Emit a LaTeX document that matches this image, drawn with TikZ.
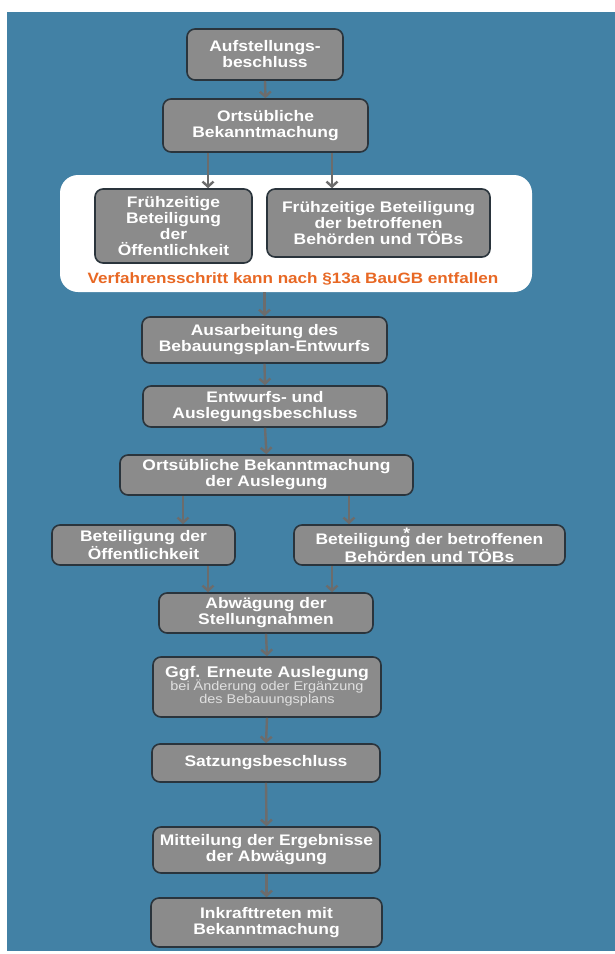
\documentclass[tikz,border=0pt]{standalone}
\usepackage{fontspec}
\setmainfont{Liberation Sans}[FakeStretch=1.14]
\usetikzlibrary{arrows.meta}
\definecolor{bgblue}{RGB}{66,129,165}
\definecolor{boxgray}{RGB}{139,139,139}
\definecolor{boxline}{RGB}{42,52,60}
\definecolor{arrowgray}{RGB}{108,108,108}
\definecolor{orangetxt}{RGB}{232,104,36}
\definecolor{lighttxt}{RGB}{224,224,224}
\begin{document}
\begin{tikzpicture}[x=1pt,y=-1pt,
  stepbox/.style={draw=boxline, line width=1.6pt, fill=boxgray, rounded corners=8pt,
    text=white, font=\fontsize{15.3}{16}\selectfont\bfseries, align=center, inner sep=0pt},
  conn/.style={draw=arrowgray, line width=2.4pt, -{Straight Barb[length=5pt,width=11pt]}},
  plain/.style={anchor=base, inner sep=0pt}]
\useasboundingbox (0,0) rectangle (615,954);
\fill[white] (0,0) rectangle (615,954);
\fill[bgblue] (7,12) rectangle (615,951);

% white frame for optional step
\node[fill=white, rounded corners=18pt, minimum width=472pt, minimum height=117pt, inner sep=0pt] (w) at (296,233.5) {};

% boxes
\node[stepbox, minimum width=156pt, minimum height=51pt] (b1) at (265,54.5) {Aufstellungs-\\beschluss};
\node[stepbox, minimum width=205pt, minimum height=53pt] (b2) at (265.5,125.5) {Ortsübliche\\Bekanntmachung};
\node[stepbox, minimum width=157pt, minimum height=74pt] (b3) at (173.5,226) {Frühzeitige\\Beteiligung\\der\\Öffentlichkeit};
\node[stepbox, minimum width=223pt, minimum height=68pt] (b4) at (378.5,223) {Frühzeitige Beteiligung\\der betroffenen\\Behörden und TÖBs};
\node[font=\fontsize{15}{18}\selectfont\bfseries, text=orangetxt, inner sep=0pt] (note) at (293,279) {Verfahrensschritt kann nach §13a BauGB entfallen};

\node[stepbox, minimum width=245pt, minimum height=46pt] (b5) at (264.5,340) {Ausarbeitung des\\Bebauungsplan-Entwurfs};
\node[stepbox, minimum width=244pt, minimum height=41pt] (b6) at (265,406.5) {Entwurfs- und\\Auslegungsbeschluss};
\node[stepbox, minimum width=293pt, minimum height=40pt] (b7) at (266.5,475) {Ortsübliche Bekanntmachung\\der Auslegung};
\node[stepbox, minimum width=183pt, minimum height=40pt] (b8) at (143.5,545) {Beteiligung der\\Öffentlichkeit};
\node[stepbox, minimum width=271pt, minimum height=40pt] (b9) at (429.5,545) {Beteiligung\llap{\raisebox{0.45em}{*}\kern0.5pt} der betroffenen\\Behörden und TÖBs};
\node[stepbox, minimum width=214pt, minimum height=40pt] (b10) at (266,613) {Abwägung der\\Stellungnahmen};
\node[stepbox, minimum width=228pt, minimum height=60pt] (b11) at (267,687) {};
\node[plain, font=\fontsize{15.5}{18}\selectfont\bfseries, text=white] (g1) at (267,677) {Ggf. Erneute Auslegung};
\node[plain, font=\fontsize{12.7}{14}\selectfont, text=lighttxt] (g2) at (267,690.5) {bei Änderung oder Ergänzung};
\node[plain, font=\fontsize{12.7}{14}\selectfont, text=lighttxt] (g3) at (267,703.3) {des Bebauungsplans};
\node[stepbox, minimum width=228pt, minimum height=38pt] (b12) at (266,763) {Satzungsbeschluss};
\node[stepbox, minimum width=227pt, minimum height=46pt] (b13) at (266.5,850) {Mitteilung der Ergebnisse\\der Abwägung};
\node[stepbox, minimum width=231pt, minimum height=49pt] (b14) at (266.5,922.5) {Inkrafttreten mit\\Bekanntmachung};

% helper x positions
\coordinate (xa) at (208,0);
\coordinate (xb) at (332,0);
\coordinate (xc) at (183,0);
\coordinate (xd) at (349,0);

% connectors
\draw[conn] (b1.south) -- (b2.north);
\draw[conn] (b2.south -| xa) -- (b3.north -| xa);
\draw[conn] (b2.south -| xb) -- (b4.north -| xb);
\draw[conn] (w.south -| b5.north) -- (b5.north);
\draw[conn] (b5.south) -- (b6.north);
\draw[conn] (b6.south) -- (b7.north);
\draw[conn] (b7.south -| xc) -- (b8.north -| xc);
\draw[conn] (b7.south -| xd) -- (b9.north -| xd);
\draw[conn] (b8.south -| xa) -- (b10.north -| xa);
\draw[conn] (b9.south -| xb) -- (b10.north -| xb);
\draw[conn] (b10.south) -- (b11.north);
\draw[conn] (b11.south) -- (b12.north);
\draw[conn] (b12.south) -- (b13.north);
\draw[conn] (b13.south) -- (b14.north);
\end{tikzpicture}
\end{document}
